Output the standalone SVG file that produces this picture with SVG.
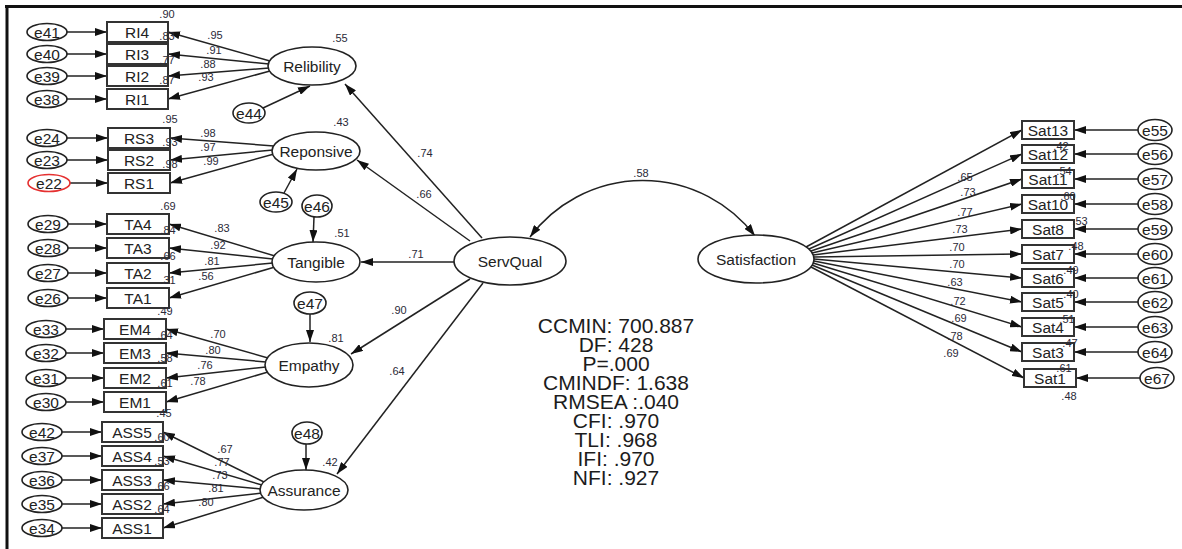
<svg xmlns="http://www.w3.org/2000/svg" width="1182" height="549" viewBox="0 0 1182 549">
  <defs>
    <marker id="ah" viewBox="0 0 12 8" refX="12" refY="4" markerWidth="12" markerHeight="8" markerUnits="userSpaceOnUse" orient="auto-start-reverse">
      <path d="M0,0 L12,4 L0,8 z" fill="#111"/>
    </marker>
    <style>
      .lat{fill:#fff;stroke:#222;stroke-width:1.6}
      .err{fill:#fff;stroke:#222;stroke-width:1.6}
      .obs{fill:#fff;stroke:#333;stroke-width:2}
      .ln{fill:none;stroke:#222;stroke-width:1.5;marker-end:url(#ah)}
      text{font-family:"Liberation Sans",Arial,sans-serif;fill:#222;text-anchor:middle}
      .lbl{font-size:15.5px}
      .elbl{font-size:15.5px}
      .sm{font-size:11px;fill:#2a2a38}
      .fit{font-size:21px;fill:#1c1c1c}
    </style>
  </defs>

  <!-- frame -->
  <path d="M5,6.5 H1182 M7,6 V549" fill="none" stroke="#111" stroke-width="3"/>

  <!-- connectors -->
  <g id="connectors">
    <!-- error terms to indicators (left) -->
    <path class="ln" d="M67,32 H107"/><path class="ln" d="M67,54 H107"/><path class="ln" d="M67,76 H107"/><path class="ln" d="M67,99 H107"/>
    <path class="ln" d="M67,138 H108"/><path class="ln" d="M67,160 H108"/><path class="ln" d="M70,183 H108"/>
    <path class="ln" d="M68,224 H107"/><path class="ln" d="M68,248 H107"/><path class="ln" d="M68,273 H107"/><path class="ln" d="M68,298 H107"/>
    <path class="ln" d="M66,329 H104"/><path class="ln" d="M66,353 H104"/><path class="ln" d="M66,378 H104"/><path class="ln" d="M66,402 H104"/>
    <path class="ln" d="M62,432 H102"/><path class="ln" d="M62,456 H102"/><path class="ln" d="M62,480 H102"/><path class="ln" d="M62,504 H102"/><path class="ln" d="M62,528 H102"/>
    <!-- factor loadings -->
    <path class="ln" d="M270,61 L168,32"/><path class="ln" d="M269,64 L168,54"/><path class="ln" d="M269,68 L168,76"/><path class="ln" d="M270,71 L168,99"/>
    <path class="ln" d="M274,146 L170,138"/><path class="ln" d="M273,150 L170,160"/><path class="ln" d="M274,154 L170,183"/>
    <path class="ln" d="M275,256 L169,224"/><path class="ln" d="M273,259 L169,248"/><path class="ln" d="M273,263 L169,273"/><path class="ln" d="M275,267 L169,298"/>
    <path class="ln" d="M268,358 L166,329"/><path class="ln" d="M266,362 L166,353"/><path class="ln" d="M266,367 L166,378"/><path class="ln" d="M268,372 L166,402"/>
    <path class="ln" d="M264,482 L163,432"/><path class="ln" d="M262,485 L163,456"/><path class="ln" d="M261,489 L163,480"/><path class="ln" d="M262,493 L163,504"/><path class="ln" d="M264,497 L163,528"/>
    <!-- disturbances -->
    <path class="ln" d="M263,108 L310,86"/>
    <path class="ln" d="M284,193 L297,169"/>
    <path class="ln" d="M314,217 L313,242"/>
    <path class="ln" d="M310,314 L310,342"/>
    <path class="ln" d="M306,444 L306,470"/>
    <!-- second-order paths -->
    <path class="ln" d="M482,238 L345,84"/>
    <path class="ln" d="M470,241 L357,160"/>
    <path class="ln" d="M455,262 L361,262"/>
    <path class="ln" d="M470,279 L351,354"/>
    <path class="ln" d="M483,283 L337,474"/>
    <!-- covariance -->
    <path d="M530,237 A141,141 0 0 1 755,236" fill="none" stroke="#222" stroke-width="1.5" marker-start="url(#ah)" marker-end="url(#ah)"/>
    <!-- satisfaction loadings -->
    <path class="ln" d="M806,247 L1022,130"/><path class="ln" d="M809,249 L1022,154"/><path class="ln" d="M811,251 L1022,179"/><path class="ln" d="M812,253 L1022,204"/>
    <path class="ln" d="M813,255 L1022,229"/><path class="ln" d="M814,257 L1022,254"/><path class="ln" d="M814,259 L1022,278"/><path class="ln" d="M814,261 L1022,302"/>
    <path class="ln" d="M813,263 L1022,327"/><path class="ln" d="M812,265 L1022,352"/><path class="ln" d="M811,267 L1024,378"/>
    <!-- satisfaction error terms -->
    <path class="ln" d="M1138,130 H1074"/><path class="ln" d="M1138,154 H1074"/><path class="ln" d="M1138,179 H1074"/><path class="ln" d="M1138,204 H1074"/>
    <path class="ln" d="M1138,229 H1074"/><path class="ln" d="M1138,254 H1074"/><path class="ln" d="M1138,278 H1074"/><path class="ln" d="M1138,302 H1074"/>
    <path class="ln" d="M1138,327 H1074"/><path class="ln" d="M1138,352 H1074"/><path class="ln" d="M1140,378 H1076"/>
  </g>

  <!-- latent variables -->
  <g id="ServQual"><ellipse class="lat" cx="510" cy="261" rx="56" ry="24"/><text class="lbl" x="510" y="267">ServQual</text></g>
  <g id="Satisfaction"><ellipse class="lat" cx="756" cy="259" rx="58" ry="24"/><text class="lbl" x="756" y="265">Satisfaction</text></g>
  <g id="Relibility"><ellipse class="lat" cx="312" cy="66" rx="44" ry="19"/><text class="lbl" x="312" y="72">Relibility</text></g>
  <g id="Reponsive"><ellipse class="lat" cx="316" cy="151" rx="44" ry="19"/><text class="lbl" x="316" y="157">Reponsive</text></g>
  <g id="Tangible"><ellipse class="lat" cx="316" cy="262" rx="44" ry="20"/><text class="lbl" x="316" y="268">Tangible</text></g>
  <g id="Empathy"><ellipse class="lat" cx="309" cy="365" rx="44" ry="22"/><text class="lbl" x="309" y="371">Empathy</text></g>
  <g id="Assurance"><ellipse class="lat" cx="304" cy="490" rx="44" ry="20"/><text class="lbl" x="304" y="496">Assurance</text></g>

  <!-- disturbance terms -->
  <g id="e44"><ellipse class="err" cx="249" cy="113" rx="16" ry="10"/><text class="elbl" x="249" y="119">e44</text></g>
  <g id="e45"><ellipse class="err" cx="276" cy="202" rx="16" ry="10"/><text class="elbl" x="276" y="208">e45</text></g>
  <g id="e46"><ellipse class="err" cx="317" cy="206" rx="15" ry="11"/><text class="elbl" x="317" y="212">e46</text></g>
  <g id="e47"><ellipse class="err" cx="310" cy="303" rx="16" ry="11"/><text class="elbl" x="310" y="309">e47</text></g>
  <g id="e48"><ellipse class="err" cx="307" cy="433" rx="15" ry="11"/><text class="elbl" x="307" y="439">e48</text></g>

  <!-- Relibility indicators -->
  <g id="RI4"><rect class="obs" x="107" y="22" width="61" height="20"/><text class="lbl" x="137" y="38">RI4</text></g>
  <g id="RI3"><rect class="obs" x="107" y="44" width="61" height="20"/><text class="lbl" x="137" y="60">RI3</text></g>
  <g id="RI2"><rect class="obs" x="107" y="66" width="61" height="20"/><text class="lbl" x="137" y="82">RI2</text></g>
  <g id="RI1"><rect class="obs" x="107" y="89" width="61" height="20"/><text class="lbl" x="137" y="105">RI1</text></g>
  <g id="e41"><ellipse class="err" cx="47" cy="32" rx="20" ry="8.5"/><text class="elbl" x="47" y="37.5">e41</text></g>
  <g id="e40"><ellipse class="err" cx="47" cy="54" rx="20" ry="8.5"/><text class="elbl" x="47" y="59.5">e40</text></g>
  <g id="e39"><ellipse class="err" cx="47" cy="76" rx="20" ry="8.5"/><text class="elbl" x="47" y="81.5">e39</text></g>
  <g id="e38"><ellipse class="err" cx="47" cy="99" rx="20" ry="8.5"/><text class="elbl" x="47" y="104.5">e38</text></g>

  <!-- Reponsive indicators -->
  <g id="RS3"><rect class="obs" x="108" y="128" width="62" height="20"/><text class="lbl" x="139" y="144">RS3</text></g>
  <g id="RS2"><rect class="obs" x="108" y="150" width="62" height="20"/><text class="lbl" x="139" y="166">RS2</text></g>
  <g id="RS1"><rect class="obs" x="108" y="173" width="62" height="20"/><text class="lbl" x="139" y="189">RS1</text></g>
  <g id="e24"><ellipse class="err" cx="47" cy="138" rx="20" ry="8.5"/><text class="elbl" x="47" y="143.5">e24</text></g>
  <g id="e23"><ellipse class="err" cx="47" cy="160" rx="20" ry="8.5"/><text class="elbl" x="47" y="165.5">e23</text></g>
  <g id="e22"><ellipse class="err" cx="49" cy="183" rx="21" ry="8.5" style="stroke:#e53030"/><text class="elbl" x="49" y="188.5">e22</text></g>

  <!-- Tangible indicators -->
  <g id="TA4"><rect class="obs" x="107" y="214" width="62" height="20"/><text class="lbl" x="138" y="230">TA4</text></g>
  <g id="TA3"><rect class="obs" x="107" y="238" width="62" height="20"/><text class="lbl" x="138" y="254">TA3</text></g>
  <g id="TA2"><rect class="obs" x="107" y="263" width="62" height="20"/><text class="lbl" x="138" y="279">TA2</text></g>
  <g id="TA1"><rect class="obs" x="107" y="288" width="62" height="20"/><text class="lbl" x="138" y="304">TA1</text></g>
  <g id="e29"><ellipse class="err" cx="48" cy="224" rx="20" ry="8.5"/><text class="elbl" x="48" y="229.5">e29</text></g>
  <g id="e28"><ellipse class="err" cx="48" cy="248" rx="20" ry="8.5"/><text class="elbl" x="48" y="253.5">e28</text></g>
  <g id="e27"><ellipse class="err" cx="48" cy="273" rx="20" ry="8.5"/><text class="elbl" x="48" y="278.5">e27</text></g>
  <g id="e26"><ellipse class="err" cx="48" cy="298" rx="20" ry="8.5"/><text class="elbl" x="48" y="303.5">e26</text></g>

  <!-- Empathy indicators -->
  <g id="EM4"><rect class="obs" x="104" y="319" width="62" height="20"/><text class="lbl" x="135" y="335">EM4</text></g>
  <g id="EM3"><rect class="obs" x="104" y="343" width="62" height="20"/><text class="lbl" x="135" y="359">EM3</text></g>
  <g id="EM2"><rect class="obs" x="104" y="368" width="62" height="20"/><text class="lbl" x="135" y="384">EM2</text></g>
  <g id="EM1"><rect class="obs" x="104" y="392" width="62" height="20"/><text class="lbl" x="135" y="408">EM1</text></g>
  <g id="e33"><ellipse class="err" cx="46" cy="329" rx="20" ry="8.5"/><text class="elbl" x="46" y="334.5">e33</text></g>
  <g id="e32"><ellipse class="err" cx="46" cy="353" rx="20" ry="8.5"/><text class="elbl" x="46" y="358.5">e32</text></g>
  <g id="e31"><ellipse class="err" cx="46" cy="378" rx="20" ry="8.5"/><text class="elbl" x="46" y="383.5">e31</text></g>
  <g id="e30"><ellipse class="err" cx="46" cy="402" rx="20" ry="8.5"/><text class="elbl" x="46" y="407.5">e30</text></g>

  <!-- Assurance indicators -->
  <g id="ASS5"><rect class="obs" x="102" y="422" width="61" height="20"/><text class="lbl" x="132" y="438">ASS5</text></g>
  <g id="ASS4"><rect class="obs" x="102" y="446" width="61" height="20"/><text class="lbl" x="132" y="462">ASS4</text></g>
  <g id="ASS3"><rect class="obs" x="102" y="470" width="61" height="20"/><text class="lbl" x="132" y="486">ASS3</text></g>
  <g id="ASS2"><rect class="obs" x="102" y="494" width="61" height="20"/><text class="lbl" x="132" y="510">ASS2</text></g>
  <g id="ASS1"><rect class="obs" x="102" y="518" width="61" height="20"/><text class="lbl" x="132" y="534">ASS1</text></g>
  <g id="e42"><ellipse class="err" cx="42" cy="432" rx="20" ry="8.5"/><text class="elbl" x="42" y="437.5">e42</text></g>
  <g id="e37"><ellipse class="err" cx="42" cy="456" rx="20" ry="8.5"/><text class="elbl" x="42" y="461.5">e37</text></g>
  <g id="e36"><ellipse class="err" cx="42" cy="480" rx="20" ry="8.5"/><text class="elbl" x="42" y="485.5">e36</text></g>
  <g id="e35"><ellipse class="err" cx="42" cy="504" rx="20" ry="8.5"/><text class="elbl" x="42" y="509.5">e35</text></g>
  <g id="e34"><ellipse class="err" cx="42" cy="528" rx="20" ry="8.5"/><text class="elbl" x="42" y="533.5">e34</text></g>

  <!-- Satisfaction indicators -->
  <g id="Sat13"><rect class="obs" x="1022" y="121" width="52" height="18"/><text class="lbl" x="1048" y="136">Sat13</text></g>
  <g id="Sat12"><rect class="obs" x="1022" y="145" width="52" height="18"/><text class="lbl" x="1048" y="160">Sat12</text></g>
  <g id="Sat11"><rect class="obs" x="1022" y="170" width="52" height="18"/><text class="lbl" x="1048" y="185">Sat11</text></g>
  <g id="Sat10"><rect class="obs" x="1022" y="195" width="52" height="18"/><text class="lbl" x="1048" y="210">Sat10</text></g>
  <g id="Sat8"><rect class="obs" x="1022" y="220" width="52" height="18"/><text class="lbl" x="1048" y="235">Sat8</text></g>
  <g id="Sat7"><rect class="obs" x="1022" y="245" width="52" height="18"/><text class="lbl" x="1048" y="260">Sat7</text></g>
  <g id="Sat6"><rect class="obs" x="1022" y="269" width="52" height="18"/><text class="lbl" x="1048" y="284">Sat6</text></g>
  <g id="Sat5"><rect class="obs" x="1022" y="293" width="52" height="18"/><text class="lbl" x="1048" y="308">Sat5</text></g>
  <g id="Sat4"><rect class="obs" x="1022" y="318" width="52" height="18"/><text class="lbl" x="1048" y="333">Sat4</text></g>
  <g id="Sat3"><rect class="obs" x="1022" y="343" width="52" height="18"/><text class="lbl" x="1048" y="358">Sat3</text></g>
  <g id="Sat1"><rect class="obs" x="1024" y="369" width="52" height="18"/><text class="lbl" x="1050" y="384">Sat1</text></g>
  <g id="e55"><ellipse class="err" cx="1155" cy="130" rx="17" ry="10.5"/><text class="elbl" x="1155" y="135.5">e55</text></g>
  <g id="e56"><ellipse class="err" cx="1155" cy="154" rx="17" ry="10.5"/><text class="elbl" x="1155" y="159.5">e56</text></g>
  <g id="e57"><ellipse class="err" cx="1155" cy="179" rx="17" ry="10.5"/><text class="elbl" x="1155" y="184.5">e57</text></g>
  <g id="e58"><ellipse class="err" cx="1155" cy="204" rx="17" ry="10.5"/><text class="elbl" x="1155" y="209.5">e58</text></g>
  <g id="e59"><ellipse class="err" cx="1155" cy="229" rx="17" ry="10.5"/><text class="elbl" x="1155" y="234.5">e59</text></g>
  <g id="e60"><ellipse class="err" cx="1155" cy="254" rx="17" ry="10.5"/><text class="elbl" x="1155" y="259.5">e60</text></g>
  <g id="e61"><ellipse class="err" cx="1155" cy="278" rx="17" ry="10.5"/><text class="elbl" x="1155" y="283.5">e61</text></g>
  <g id="e62"><ellipse class="err" cx="1155" cy="302" rx="17" ry="10.5"/><text class="elbl" x="1155" y="307.5">e62</text></g>
  <g id="e63"><ellipse class="err" cx="1155" cy="327" rx="17" ry="10.5"/><text class="elbl" x="1155" y="332.5">e63</text></g>
  <g id="e64"><ellipse class="err" cx="1155" cy="352" rx="17" ry="10.5"/><text class="elbl" x="1155" y="357.5">e64</text></g>
  <g id="e67"><ellipse class="err" cx="1157" cy="378" rx="17" ry="10.5"/><text class="elbl" x="1157" y="383.5">e67</text></g>

  <!-- estimates -->
  <g id="estimates" class="sm">
    <text class="sm" x="167" y="18">.90</text><text class="sm" x="167" y="40">.83</text><text class="sm" x="167" y="64">.77</text><text class="sm" x="167" y="84">.87</text>
    <text class="sm" x="215" y="39">.95</text><text class="sm" x="214" y="54">.91</text><text class="sm" x="208" y="68">.88</text><text class="sm" x="206" y="81">.93</text>
    <text class="sm" x="340" y="42">.55</text>
    <text class="sm" x="170" y="123">.95</text><text class="sm" x="170" y="146">.93</text><text class="sm" x="170" y="168">.98</text>
    <text class="sm" x="208" y="137">.98</text><text class="sm" x="208" y="151">.97</text><text class="sm" x="211" y="165">.99</text>
    <text class="sm" x="341" y="126">.43</text>
    <text class="sm" x="168" y="210">.69</text><text class="sm" x="168" y="234">.84</text><text class="sm" x="168" y="260">.66</text><text class="sm" x="168" y="284">.31</text>
    <text class="sm" x="222" y="232">.83</text><text class="sm" x="218" y="249">.92</text><text class="sm" x="212" y="265">.81</text><text class="sm" x="206" y="280">.56</text>
    <text class="sm" x="342" y="237">.51</text>
    <text class="sm" x="165" y="315">.49</text><text class="sm" x="165" y="339">.64</text><text class="sm" x="165" y="362">.58</text><text class="sm" x="165" y="387">.61</text><text class="sm" x="164" y="417">.45</text>
    <text class="sm" x="218" y="338">.70</text><text class="sm" x="213" y="354">.80</text><text class="sm" x="205" y="369">.76</text><text class="sm" x="198" y="385">.78</text>
    <text class="sm" x="336" y="342">.81</text>
    <text class="sm" x="162" y="441">.60</text><text class="sm" x="162" y="465">.53</text><text class="sm" x="162" y="490">.66</text><text class="sm" x="162" y="513">.64</text>
    <text class="sm" x="225" y="453">.67</text><text class="sm" x="222" y="466">.77</text><text class="sm" x="220" y="479">.73</text><text class="sm" x="216" y="492">.81</text><text class="sm" x="206" y="506">.80</text>
    <text class="sm" x="330" y="466">.42</text>
    <text class="sm" x="425" y="157">.74</text><text class="sm" x="424" y="198">.66</text><text class="sm" x="416" y="258">.71</text><text class="sm" x="399" y="314">.90</text><text class="sm" x="397" y="375">.64</text>
    <text class="sm" x="641" y="177">.58</text>
    <text class="sm" x="965" y="181">.65</text><text class="sm" x="968" y="196">.73</text><text class="sm" x="965" y="216">.77</text><text class="sm" x="960" y="233">.73</text><text class="sm" x="957" y="251">.70</text><text class="sm" x="957" y="268">.70</text><text class="sm" x="955" y="286">.63</text><text class="sm" x="958" y="305">.72</text><text class="sm" x="959" y="322">.69</text><text class="sm" x="955" y="340">.78</text><text class="sm" x="951" y="357">.69</text>
    <text class="sm" x="1061" y="150">.42</text><text class="sm" x="1064" y="175">.54</text><text class="sm" x="1068" y="200">.60</text><text class="sm" x="1080" y="225">.53</text><text class="sm" x="1076" y="250">.48</text><text class="sm" x="1071" y="274">.49</text><text class="sm" x="1071" y="298">.40</text><text class="sm" x="1067" y="323">.51</text><text class="sm" x="1070" y="347">.47</text><text class="sm" x="1064" y="372">.61</text><text class="sm" x="1069" y="400">.48</text>
  </g>

  <!-- fit indices -->
  <g id="fit">
    <text class="fit" x="616" y="333">CCMIN: 700.887</text>
    <text class="fit" x="616" y="352">DF: 428</text>
    <text class="fit" x="616" y="371">P=.000</text>
    <text class="fit" x="616" y="390">CMINDF: 1.638</text>
    <text class="fit" x="616" y="409">RMSEA :.040</text>
    <text class="fit" x="616" y="428">CFI: .970</text>
    <text class="fit" x="616" y="447">TLI: .968</text>
    <text class="fit" x="616" y="466">IFI: .970</text>
    <text class="fit" x="616" y="485">NFI: .927</text>
  </g>
</svg>
